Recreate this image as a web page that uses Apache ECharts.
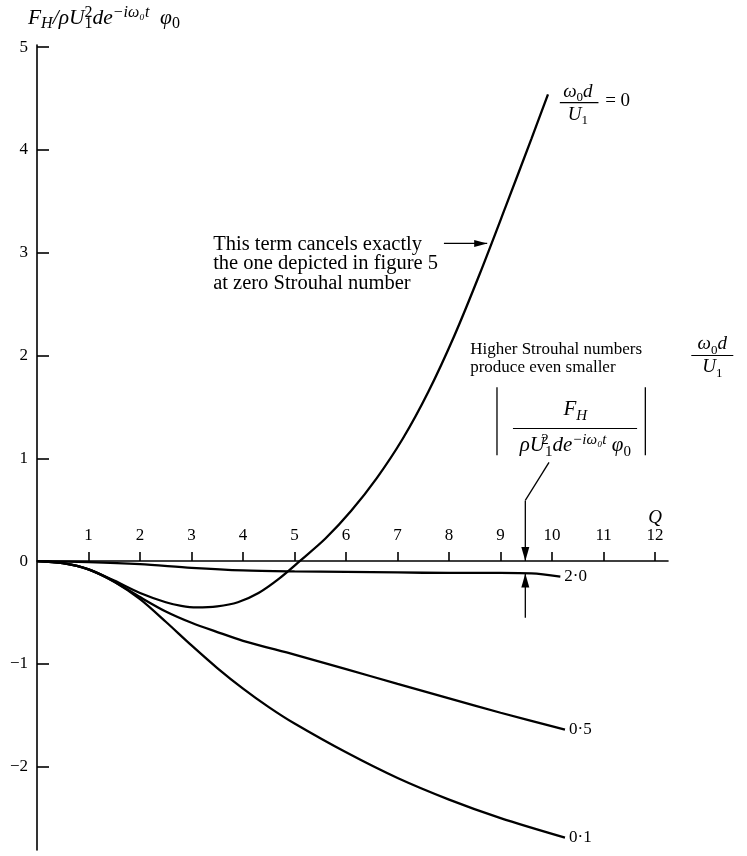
<!DOCTYPE html>
<html><head><meta charset="utf-8">
<script src="https://cdn.jsdelivr.net/npm/echarts@6/dist/echarts.min.js"></script>
<style>html,body{margin:0;padding:0;background:#fff}#c{width:747px;height:856px}</style>
</head><body><div id="c"></div>
<script>
// ---- data (Q on x, F_H/... on y) ----
const xTicks = [1,2,3,4,5,6,7,8,9,10,11,12];
const yTicks = [-2,-1,0,1,2,3,4,5];

const q_s0  = [0,0.5,1,1.5,2,2.5,2.8,3.1,3.5,3.9,4.3,4.7,5.1,5.6,6.1,6.6,7.1,7.6,8.1,8.6,9.1,9.6,9.92];
const v_s0  = [0,-0.02,-0.08,-0.19,-0.31,-0.40,-0.435,-0.45,-0.44,-0.40,-0.31,-0.17,0.0,0.22,0.49,0.81,1.19,1.65,2.19,2.80,3.45,4.11,4.54];

const q_s20 = [0,1,2,3,4,5,6,7,8,9,9.6,10.16];
const v_s20 = [0,-0.01,-0.03,-0.065,-0.09,-0.1,-0.105,-0.11,-0.115,-0.115,-0.12,-0.15];

const q_s05 = [0,0.5,1,1.5,2,2.5,3,3.5,4,5,6,7,8,9,10.25];
const v_s05 = [0,-0.02,-0.08,-0.2,-0.35,-0.49,-0.60,-0.69,-0.775,-0.91,-1.05,-1.195,-1.335,-1.475,-1.64];

const q_s01 = [0,0.5,1,1.5,2,2.5,3,3.5,4,4.5,5,6,7,8,9,10.25];
const v_s01 = [0,-0.02,-0.08,-0.2,-0.37,-0.59,-0.82,-1.04,-1.24,-1.42,-1.58,-1.86,-2.11,-2.32,-2.50,-2.69];

const endNames = ['2·0','0·5','0·1'];

function pairs(q, v){ return q.map((x,i)=>[x, v[i]]); }

const SERIF = "'Liberation Serif','DejaVu Serif',serif";
const BLACK = '#000';
const Y_MIN = -2.81, Y_MAX = 5.02;

function lineSeries(name, q, v, label){
  const s = {
    name: name, type:'line', data: pairs(q,v), showSymbol:false, smooth:0.3,
    lineStyle:{color:BLACK, width:2.3}, itemStyle:{color:BLACK}, silent:true
  };
  if (label) {
    s.endLabel = {show:true, formatter:label, color:BLACK, fontFamily:SERIF, fontSize:17, distance:4};
  }
  return s;
}

const option = {
  animation:false,
  backgroundColor:'#fff',
  grid:{left:37, right:79, top:45, bottom:6, outerBoundsMode:'none'},
  xAxis:{
    type:'value', min:0, max:12.25, offset:0,
    axisLine:{show:true, onZero:false, lineStyle:{color:BLACK, width:1.6}},
    axisTick:{show:true, inside:true, length:9, customValues:xTicks, lineStyle:{color:BLACK, width:1.6}},
    axisLabel:{show:true, inside:true, margin:17, customValues:xTicks, color:BLACK, fontFamily:SERIF, fontSize:17},
    splitLine:{show:false}
  },
  yAxis:{
    type:'value', min:Y_MIN, max:Y_MAX,
    axisLine:{show:true, onZero:false, lineStyle:{color:BLACK, width:1.6}},
    axisTick:{show:true, inside:true, length:12, customValues:yTicks, lineStyle:{color:BLACK, width:1.6}},
    axisLabel:{show:true, margin:9, customValues:yTicks, color:BLACK, fontFamily:SERIF, fontSize:17,
      formatter: v => (v < 0 ? '−' + Math.abs(v) : String(v))},
    splitLine:{show:false}
  },
  series:[
    lineSeries('0', q_s0, v_s0, null),
    lineSeries('2.0', q_s20, v_s20, endNames[0]),
    lineSeries('0.5', q_s05, v_s05, endNames[1]),
    lineSeries('0.1', q_s01, v_s01, endNames[2])
  ]
};

const chart = echarts.init(document.getElementById('c'));
chart.setOption(option);

// move the Q axis (line, ticks, labels) up to the zero level of the ordinate
const zeroY = chart.convertToPixel({yAxisIndex:0}, 0);
const baseY = chart.convertToPixel({yAxisIndex:0}, Y_MIN);
chart.setOption({xAxis:{offset: zeroY - baseY}});

// ---- annotations placed through the chart's own coordinate system ----
const P = (q, v) => chart.convertToPixel({gridIndex:0}, [q, v]);

function mkRich(big, small){
  return {
    i:  {fontFamily:SERIF, fontStyle:'italic', fontSize:big, lineHeight:big+6, fill:BLACK, color:BLACK},
    r:  {fontFamily:SERIF, fontSize:big, lineHeight:big+6, fill:BLACK, color:BLACK},
    sb: {fontFamily:SERIF, fontSize:small, lineHeight:small, verticalAlign:'bottom', fill:BLACK, color:BLACK},
    sbi:{fontFamily:SERIF, fontStyle:'italic', fontSize:small, lineHeight:small, verticalAlign:'bottom', fill:BLACK, color:BLACK},
    sp: {fontFamily:SERIF, fontStyle:'italic', fontSize:small, lineHeight:small+1, verticalAlign:'top', fill:BLACK, color:BLACK},
    sp0:{fontFamily:SERIF, fontSize:small, lineHeight:small+1, verticalAlign:'top', width:0, fill:BLACK, color:BLACK}
  };
}
const R18 = mkRich(19, 13);
const R21 = mkRich(21, 15);
const RT  = mkRich(21.5, 16);

function txt(p, text, align, extra){
  const st = Object.assign({
    text:text, x:p[0], y:p[1], fill:BLACK,
    align:align||'left', textAlign:align||'left',
    verticalAlign:'middle', textVerticalAlign:'middle',
    fontFamily:SERIF, fontSize:18, rich:R18
  }, extra||{});
  return {type:'text', silent:true, style:st};
}
function seg(a, b, w){
  return {type:'line', silent:true, shape:{x1:a[0], y1:a[1], x2:b[0], y2:b[1]}, style:{stroke:BLACK, lineWidth:w||1.4}};
}
function head(tip, from, L, w){
  const dx = tip[0]-from[0], dy = tip[1]-from[1];
  const len = Math.hypot(dx, dy), ux = dx/len, uy = dy/len;
  const bx = tip[0]-ux*L, by = tip[1]-uy*L;
  return {type:'polygon', silent:true, shape:{points:[[tip[0],tip[1]],[bx-uy*w,by+ux*w],[bx+uy*w,by-ux*w]]}, style:{fill:BLACK}};
}

const g = [];
// y-axis title
g.push(txt(P(-0.175, 5.28), '{i|F}{sbi|H}{i|/ρU}{sp0|2}{sb|1}{i|de}{sp|−iω₀t}{i|  φ}{sb|0}', 'left', {rich:RT}));

// curve label for ω0 d / U1 = 0
const fc = P(10.5, 4.46);
g.push(txt([fc[0], fc[1]-11], '{i|ω}{sb|0}{i|d}', 'center'));
g.push(seg(P(10.15, 4.46), P(10.9, 4.46), 1.2));
g.push(txt([fc[0], fc[1]+12], '{i|U}{sb|1}', 'center'));
g.push(txt(P(11.03, 4.48), '= 0', 'left', {fontSize:19}));

// annotation 1
g.push(txt(P(3.42, 2.89), 'This term cancels exactly\nthe one depicted in figure 5\nat zero Strouhal number', 'left', {fontSize:20.5, lineHeight:19.5}));
const a1s = P(7.9, 3.09), a1e = P(8.74, 3.09);
g.push(seg(a1s, a1e, 1.4));
g.push(head(a1e, a1s, 13, 3.5));

// annotation 2
g.push(txt(P(8.41, 1.975), 'Higher Strouhal numbers\nproduce even smaller', 'left', {fontSize:17, lineHeight:18}));
const fr = P(13.11, 2.0);
g.push(txt([fr[0], fr[1]-11], '{i|ω}{sb|0}{i|d}', 'center'));
g.push(seg([fr[0]-21, fr[1]], [fr[0]+21, fr[1]], 1.2));
g.push(txt([fr[0], fr[1]+12], '{i|U}{sb|1}', 'center'));

// |F_H / ...| block
g.push(seg(P(8.93, 1.69), P(8.93, 1.03), 1.3));
g.push(seg(P(11.81, 1.69), P(11.81, 1.03), 1.3));
g.push(txt(P(10.45, 1.47), '{i|F}{sbi|H}', 'center', {rich:R21}));
g.push(seg(P(9.24, 1.29), P(11.65, 1.29), 1.2));
g.push(txt(P(10.45, 1.12), '{i|ρU}{sp0|2}{sb|1}{i|de}{sp|−iω₀t}{i| φ}{sb|0}', 'center', {rich:R21}));

// pointer arrow down to axis
const p1 = P(9.94, 0.96), p2 = P(9.48, 0.59), p3 = P(9.48, 0.0);
g.push(seg(p1, p2, 1.3));
g.push(seg(p2, p3, 1.3));
g.push(head(p3, p2, 14, 4));
// arrow up to the 2.0 curve
const u1 = P(9.48, -0.55), u2 = P(9.48, -0.12);
g.push(seg(u1, u2, 1.3));
g.push(head(u2, u1, 14, 4));

// axis name Q
g.push(txt(P(12.0, 0.42), '{i|Q}', 'center'));

chart.setOption({graphic:{elements:g}});
</script>
</body></html>
